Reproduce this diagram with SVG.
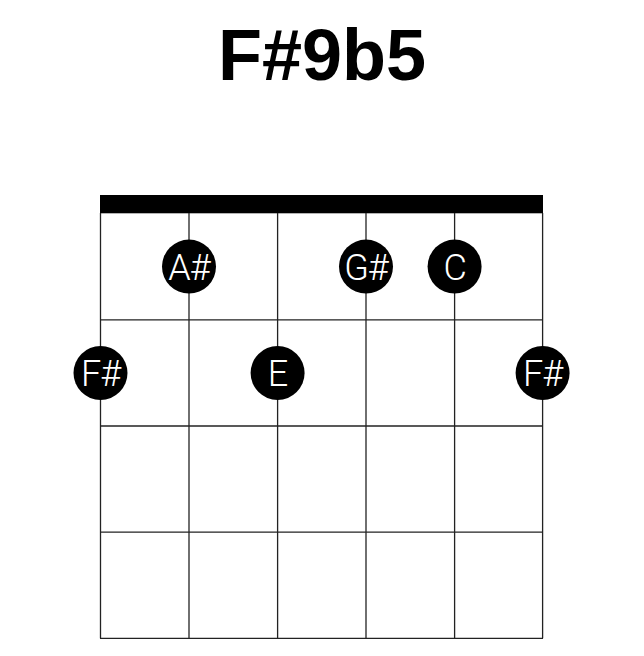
<svg xmlns="http://www.w3.org/2000/svg" width="644" height="656" viewBox="0 0 644 656">
<style>
.title{font-family:"Liberation Sans",Arial,sans-serif;font-weight:bold;font-size:72px;fill:#000;text-anchor:middle}
.grid line{stroke:#222;stroke-width:1.3}
.dot circle{fill:#000}
.dot text{font-family:Roboto,"Liberation Sans",sans-serif;font-weight:300;font-size:36px;letter-spacing:-1px;fill:#fff;text-anchor:middle}
</style>
<rect width="644" height="656" fill="#fff"/>
<text class="title" x="322" y="80">F#9b5</text>
<g id="fretboard" class="grid">
<rect x="100" y="195" width="443" height="18.3" fill="#000"/>
<line x1="100.5" y1="213" x2="100.5" y2="638.3"/>
<line x1="189" y1="213" x2="189" y2="638.3"/>
<line x1="277.6" y1="213" x2="277.6" y2="638.3"/>
<line x1="366" y1="213" x2="366" y2="638.3"/>
<line x1="454.6" y1="213" x2="454.6" y2="638.3"/>
<line x1="542.6" y1="213" x2="542.6" y2="638.3"/>
<line x1="100" y1="319.8" x2="543" y2="319.8"/>
<line x1="100" y1="426" x2="543" y2="426"/>
<line x1="100" y1="532.2" x2="543" y2="532.2"/>
<line x1="100" y1="638.3" x2="543" y2="638.3"/>
</g>
<g id="connectors"></g>
<g id="note-As" class="dot"><circle cx="189" cy="266.6" r="27"/><text x="189" y="279.5">A#</text></g>
<g id="note-Gs" class="dot"><circle cx="366" cy="266.6" r="27"/><text x="366" y="279.5">G#</text></g>
<g id="note-C" class="dot"><circle cx="454.6" cy="266.6" r="27"/><text x="454.6" y="279.5">C</text></g>
<g id="note-Fs1" class="dot"><circle cx="100.5" cy="373" r="27"/><text x="100.5" y="386">F#</text></g>
<g id="note-E" class="dot"><circle cx="277.6" cy="373" r="27"/><text x="277.6" y="386">E</text></g>
<g id="note-Fs6" class="dot"><circle cx="542.6" cy="373" r="27"/><text x="542.6" y="386">F#</text></g>
</svg>
